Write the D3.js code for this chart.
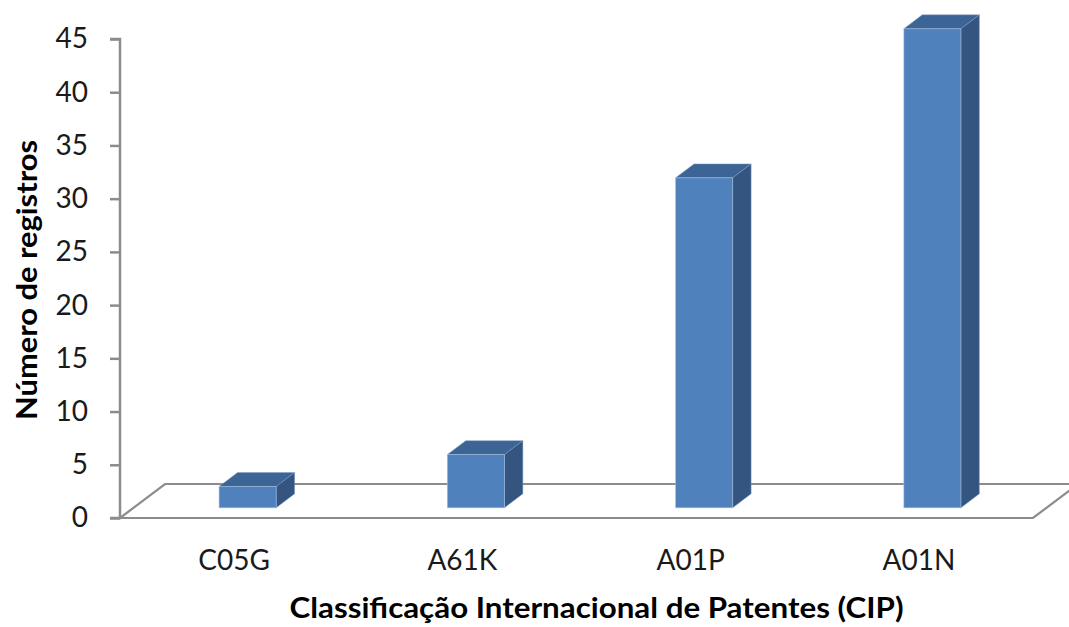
<!DOCTYPE html>
<html>
<head>
<meta charset="utf-8">
<script src="https://cdn.jsdelivr.net/npm/d3@7"></script>
<style>
    html, body { margin: 0; padding: 0; background: #fff; }
    svg { display: block; font-family: Lato, "Open Sans", sans-serif; }
</style>
</head>
<body>
<div id="chart"></div>
<script>
const categories = ["C05G", "A61K", "A01P", "A01N"];
const values = [2, 5, 31, 45];
const yTicks = [0, 5, 10, 15, 20, 25, 30, 35, 40, 45];
const xTitle = "Classificação Internacional de Patentes (CIP)";
const yTitle = "Número de registros";

const width = 1069;
const height = 627;

// plot frame (front edge of the floor and the value axis)
const plotLeft = 120, plotRight = 1033, plotBottom = 518, plotTop = 39;
// 3d depth of floor
const depthX = 45, depthY = -34;
const barFront = 0.3;   // bar front face, as fraction of floor depth
const barDepth = 0.41;  // bar depth, as fraction of floor depth

const svg = d3.select("#chart")
    .append("svg")
    .attr("width", width)
    .attr("height", height);

const x = d3.scaleBand()
    .domain(categories)
    .range([plotLeft, plotRight])
    .paddingInner(0.75)
    .paddingOuter(0.375);

const y = d3.scaleLinear()
    .domain([0, 45])
    .range([plotBottom, plotTop]);

// floor
const floor = [
    [plotLeft, plotBottom], [plotRight, plotBottom],
    [plotRight + depthX, plotBottom + depthY], [plotLeft + depthX, plotBottom + depthY]
];
svg.append("path")
    .attr("d", d3.line()(floor) + "Z")
    .attr("fill", "none")
    .attr("stroke", "#8c8c8c")
    .attr("stroke-width", 2.2);

// value axis
const yAxis = svg.append("g")
    .attr("transform", `translate(${plotLeft},0)`)
    .call(d3.axisLeft(y).tickValues(yTicks).tickSize(10).tickPadding(22));

yAxis.select(".domain")
    .attr("stroke", "#8c8c8c")
    .attr("stroke-width", 2.5)
    .attr("d", `M-10,${plotTop}H0V${plotBottom}H-10`);
yAxis.selectAll(".tick line")
    .attr("stroke", "#8c8c8c")
    .attr("stroke-width", 2.5);
yAxis.selectAll(".tick text")
    .attr("fill", "#1a1a1a")
    .style("font-size", "28px")
    .style("font-family", "Lato, sans-serif");

// bars
const fx = depthX * barFront, fy = depthY * barFront;
const bx = depthX * barDepth, by = depthY * barDepth;

const bars = svg.append("g")
    .selectAll("g")
    .data(categories.map((c, i) => ({cat: c, value: values[i]})))
    .join("g");

// top face
bars.append("path")
    .attr("d", d => {
        const x0 = x(d.cat) + fx, x1 = x0 + x.bandwidth(), y0 = y(d.value) + fy;
        return `M${x0},${y0}L${x1},${y0}L${x1 + bx},${y0 + by}L${x0 + bx},${y0 + by}Z`;
    })
    .attr("fill", "#3c6494")
    .attr("stroke", "#7f9fc8")
    .attr("stroke-width", 0.8)
    .attr("stroke-opacity", 0.6);

// side face
bars.append("path")
    .attr("d", d => {
        const x1 = x(d.cat) + fx + x.bandwidth(), y0 = y(d.value) + fy, y1 = y(0) + fy;
        return `M${x1},${y0}L${x1 + bx},${y0 + by}L${x1 + bx},${y1 + by}L${x1},${y1}Z`;
    })
    .attr("fill", "#34557f")
    .attr("stroke", "#7f9fc8")
    .attr("stroke-width", 0.8)
    .attr("stroke-opacity", 0.6);

// front face
bars.append("rect")
    .attr("x", d => x(d.cat) + fx)
    .attr("y", d => y(d.value) + fy)
    .attr("width", x.bandwidth())
    .attr("height", d => y(0) - y(d.value))
    .attr("fill", "#4f81bd")
    .attr("stroke", "#a7c0e0")
    .attr("stroke-width", 0.8)
    .attr("stroke-opacity", 0.7);

// category labels
svg.append("g")
    .selectAll("text")
    .data(categories)
    .join("text")
    .attr("x", d => x(d) + x.bandwidth() / 2)
    .attr("y", 570)
    .attr("text-anchor", "middle")
    .attr("fill", "#1a1a1a")
    .style("font-size", "28px")
    .text(d => d);

// axis titles
svg.append("text")
    .attr("x", (plotLeft + plotRight) / 2 + 20)
    .attr("y", 618)
    .attr("text-anchor", "middle")
    .attr("fill", "#000")
    .style("font-size", "28px")
    .style("font-weight", "bold")
    .attr("textLength", 614)
    .attr("lengthAdjust", "spacingAndGlyphs")
    .text(xTitle);

svg.append("text")
    .attr("transform", `translate(37,${280}) rotate(-90)`)
    .attr("text-anchor", "middle")
    .attr("fill", "#000")
    .style("font-size", "28px")
    .style("font-weight", "bold")
    .attr("textLength", 280)
    .attr("lengthAdjust", "spacingAndGlyphs")
    .text(yTitle);
</script>
</body>
</html>
